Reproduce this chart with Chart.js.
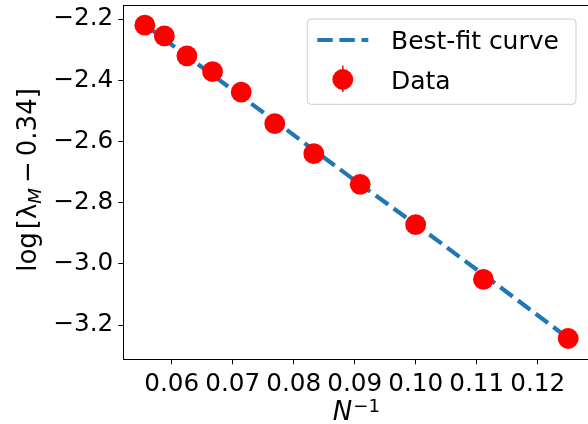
<!DOCTYPE html>
<html>
<head>
<meta charset="utf-8">
<script src="https://cdn.jsdelivr.net/npm/chart.js@4"></script>
<style>
  html, body { margin: 0; padding: 0; background: #fff; overflow: hidden; }
  #wrap { width: 600px; height: 424px; }
</style>
</head>
<body>
<div id="wrap"><canvas id="fitChart" width="600" height="424"></canvas></div>
<script>
// inverse system size 1/N, N = 18 ... 8
var invN = [0.0556, 0.0588, 0.0625, 0.0667, 0.0714, 0.0769, 0.0833, 0.0909, 0.1000, 0.1111, 0.1250];
var logLambda = [-2.220, -2.255, -2.320, -2.372, -2.439, -2.542, -2.640, -2.740, -2.872, -3.051, -3.244];
var fitCurve = [-2.218, -2.266, -2.321, -2.383, -2.452, -2.533, -2.628, -2.740, -2.871, -3.035, -3.243];
var xTicks = [0.06, 0.07, 0.08, 0.09, 0.10, 0.11, 0.12];
var yTicks = [-3.2, -3.0, -2.8, -2.6, -2.4, -2.2];

var FONT = "'DejaVu Sans', 'Liberation Sans', sans-serif";
var BLUE = '#1f77b4';

function pts(xs, ys) {
    var out = [];
    for (var i = 0; i < xs.length; i++) out.push({x: xs[i], y: ys[i]});
    return out;
}

// top spine + axis labels (mathtext-like) + legend box
var extras = {
    id: 'extras',
    afterDatasetsDraw: function(chart) {
        var c = chart.ctx, a = chart.chartArea;
        c.save();
        c.strokeStyle = '#000';
        c.lineWidth = 1;
        c.beginPath();
        c.moveTo(a.left, a.top + 0.5);
        c.lineTo(a.right, a.top + 0.5);
        c.stroke();

        // legend
        var lx = 307.3, ly = 19, lw = 268.7, lh = 85.3;
        c.beginPath();
        c.roundRect(lx, ly, lw, lh, 4);
        c.fillStyle = 'rgba(255,255,255,0.8)';
        c.fill();
        c.strokeStyle = '#cccccc';
        c.lineWidth = 1;
        c.stroke();

        var ds = chart.data.datasets;
        c.strokeStyle = BLUE;
        c.lineWidth = 4.2;
        c.setLineDash([15.4, 6.7]);
        c.beginPath();
        c.moveTo(317.3, 40);
        c.lineTo(368.3, 40);
        c.stroke();
        c.setLineDash([]);

        c.strokeStyle = 'red';
        c.lineWidth = 1.5;
        c.beginPath();
        c.moveTo(342.8, 65.5);
        c.lineTo(342.8, 92);
        c.stroke();
        c.fillStyle = 'red';
        c.beginPath();
        c.arc(342.8, 79.5, 10.4, 0, Math.PI * 2);
        c.fill();

        c.fillStyle = '#000';
        c.font = '25px ' + FONT;
        c.textBaseline = 'alphabetic';
        c.textAlign = 'left';
        c.fillText(ds[0].label, 391, 49);
        c.fillText(ds[1].label, 391, 88.5);

        // x label: N^{-1}
        var big = '26px ' + FONT, small = '18.2px ' + FONT;
        c.font = 'italic ' + big;
        var wN = c.measureText('N').width;
        c.font = small;
        var wS = c.measureText('\u22121').width;
        var x0 = (a.left + a.right) / 2 - (wN + 1 + wS) / 2;
        c.font = 'italic ' + big;
        c.fillText('N', x0, 420);
        c.font = small;
        c.fillText('\u22121', x0 + wN + 1, 411.5);

        // y label: log[λ_M − 0.34]
        var parts = [
            {t: 'log', f: big, dy: 0, gap: 3},
            {t: '[', f: big, dy: 0, gap: 0},
            {t: '\u03bb', f: big, dy: 0, gap: 0},
            {t: 'M', f: 'italic ' + small, dy: 4.5, gap: 5},
            {t: '\u2212', f: big, dy: 0, gap: 5},
            {t: '0.34]', f: big, dy: 0, gap: 0}
        ];
        var total = 0;
        parts.forEach(function(p) { c.font = p.f; p.w = c.measureText(p.t).width; total += p.w + p.gap; });
        c.translate(36, 180);
        c.rotate(-Math.PI / 2);
        var px = -total / 2;
        parts.forEach(function(p) {
            c.font = p.f;
            c.fillText(p.t, px, p.dy);
            px += p.w + p.gap;
        });
        c.restore();
    }
};

var ctx = document.getElementById('fitChart').getContext('2d');
var chart = new Chart(ctx, {
    type: 'scatter',
    data: {
        datasets: [{
            label: 'Best-fit curve',
            data: pts(invN, fitCurve),
            showLine: true,
            borderColor: BLUE,
            borderWidth: 4.2,
            borderDash: [15.4, 6.7],
            pointRadius: 0,
            order: 2
        }, {
            label: 'Data',
            data: pts(invN, logLambda),
            backgroundColor: 'red',
            borderWidth: 0,
            pointRadius: 10.4,
            pointHoverRadius: 10.4,
            order: 1
        }]
    },
    options: {
        responsive: false,
        animation: false,
        devicePixelRatio: 1,
        layout: { autoPadding: false, padding: { left: 0, top: 5, right: 10.4, bottom: 0 } },
        plugins: { legend: { display: false }, tooltip: { enabled: false } },
        scales: {
            x: {
                type: 'linear',
                min: 0.05207,
                max: 0.12851,
                afterFit: function(s) {
                    s.height = 64.7;
                    s.paddingLeft = 0; s.paddingRight = 0;
                },
                afterBuildTicks: function(s) { s.ticks = xTicks.map(function(v) { return {value: v}; }); },
                grid: { drawOnChartArea: false, drawTicks: true, tickLength: 5, color: '#000', lineWidth: 1 },
                border: { display: true, color: '#000', width: 1 },
                ticks: {
                    autoSkip: false, maxRotation: 0, padding: 5, color: '#000',
                    font: { family: FONT, size: 24.7 },
                    callback: function(v) { return v.toFixed(2); }
                }
            },
            y: {
                type: 'linear',
                min: -3.312,
                max: -2.154,
                afterFit: function(s) {
                    s.width = 123.3;
                    s.paddingTop = 0; s.paddingBottom = 0;
                },
                afterBuildTicks: function(s) { s.ticks = yTicks.map(function(v) { return {value: v}; }); },
                grid: { drawOnChartArea: false, drawTicks: true, tickLength: 5, color: '#000', lineWidth: 1 },
                border: { display: true, color: '#000', width: 1 },
                ticks: {
                    autoSkip: false, padding: 5, color: '#000',
                    font: { family: FONT, size: 24.7 },
                    callback: function(v) { return '\u2212' + Math.abs(v).toFixed(1); }
                }
            }
        }
    },
    plugins: [extras]
});
</script>
</body>
</html>
